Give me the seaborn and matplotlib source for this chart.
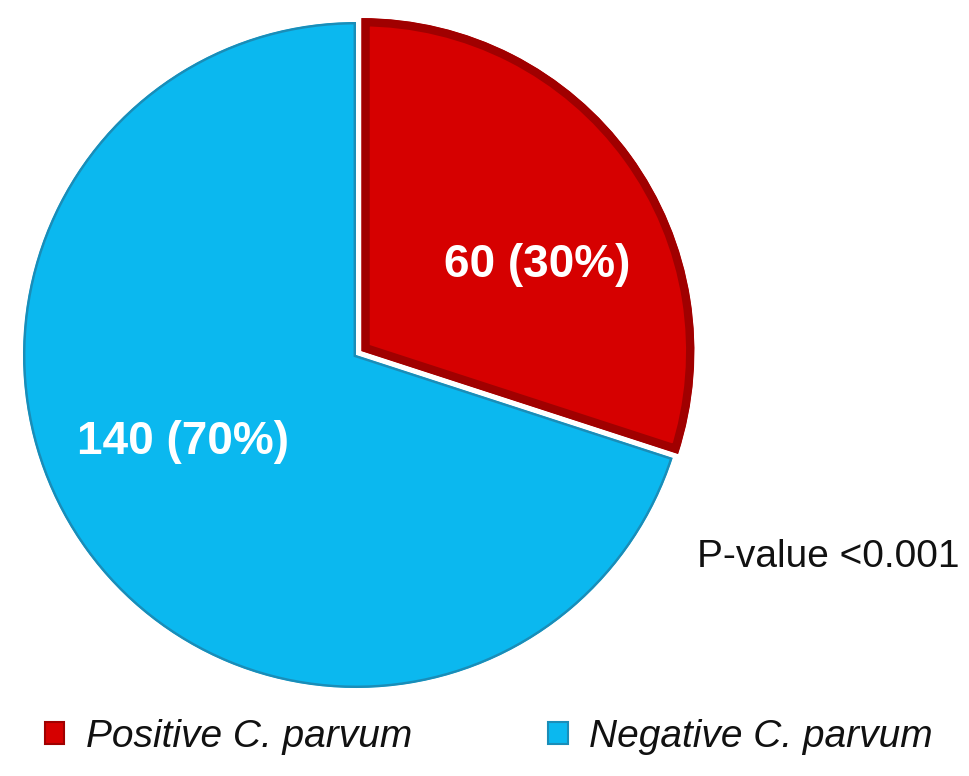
import matplotlib
matplotlib.use("Agg")
import matplotlib.pyplot as plt
from matplotlib.patches import Patch
import seaborn as sns

# ---- data ----
categories = ["Positive C. parvum", "Negative C. parvum"]
counts = [60, 140]
p_value_text = "P-value <0.001"

sns.set_theme(style="white")
plt.rcParams['font.family'] = ['Liberation Sans', 'DejaVu Sans']

W, H = 969, 776
fig = plt.figure(figsize=(W / 100, H / 100), dpi=100)
fig.patch.set_facecolor("white")

cx, cy, r = 356, 355, 333
m = 1.1  # axis half-range in radius units
ax = fig.add_axes([(cx - m * r) / W, (H - cy - m * r) / H, 2 * m * r / W, 2 * m * r / H])

red = "#D60000"
dark_red = "#A00000"
blue = "#0BB8EF"
dark_blue = "#1A8DB8"
colors = [red, blue]

total = sum(counts)
wedges, _ = ax.pie(counts, colors=colors, startangle=90, counterclock=False,
                   explode=[0.02, 0.0], radius=1.0,
                   wedgeprops=dict(linewidth=0))
# bevel-like inner edges (clipped to each wedge)
for w, ec, lw in zip(wedges, [dark_red, dark_blue], [12, 3.5]):
    w.set_edgecolor(ec)
    w.set_linewidth(lw)
    w.set_clip_on(True)
    w.set_clip_path(w)

ax.set_xlim(-m, m)
ax.set_ylim(-m, m)
ax.set_aspect('auto')
ax.axis('off')

labels = [f"{c} ({round(100 * c / total)}%)" for c in counts]
label_pos = [((537 - cx) / r, (cy - 265) / r), ((183 - cx) / r, (cy - 442) / r)]
for lab, (x, y) in zip(labels, label_pos):
    ax.text(x, y, lab, ha='center', va='center', color='white',
            fontsize=33, fontweight='bold')

fig.text(697 / W, 1 - 557 / H, p_value_text, ha='left', va='center',
         fontsize=28, color='#111111')

handles = [Patch(facecolor=c, edgecolor=e, linewidth=1.5) for c, e in zip(colors, [dark_red, dark_blue])]
leg = fig.legend(handles, categories, loc='center left',
                 bbox_to_anchor=(45 / W, 1 - 737 / H), ncol=2, frameon=False,
                 borderpad=0, borderaxespad=0, handlelength=0.5, handleheight=0.5,
                 handletextpad=0.55, columnspacing=3.5,
                 prop=dict(style='italic', size=28))
for t in leg.get_texts():
    t.set_color('#111111')

fig.savefig("out.png", dpi=100, facecolor="white")
